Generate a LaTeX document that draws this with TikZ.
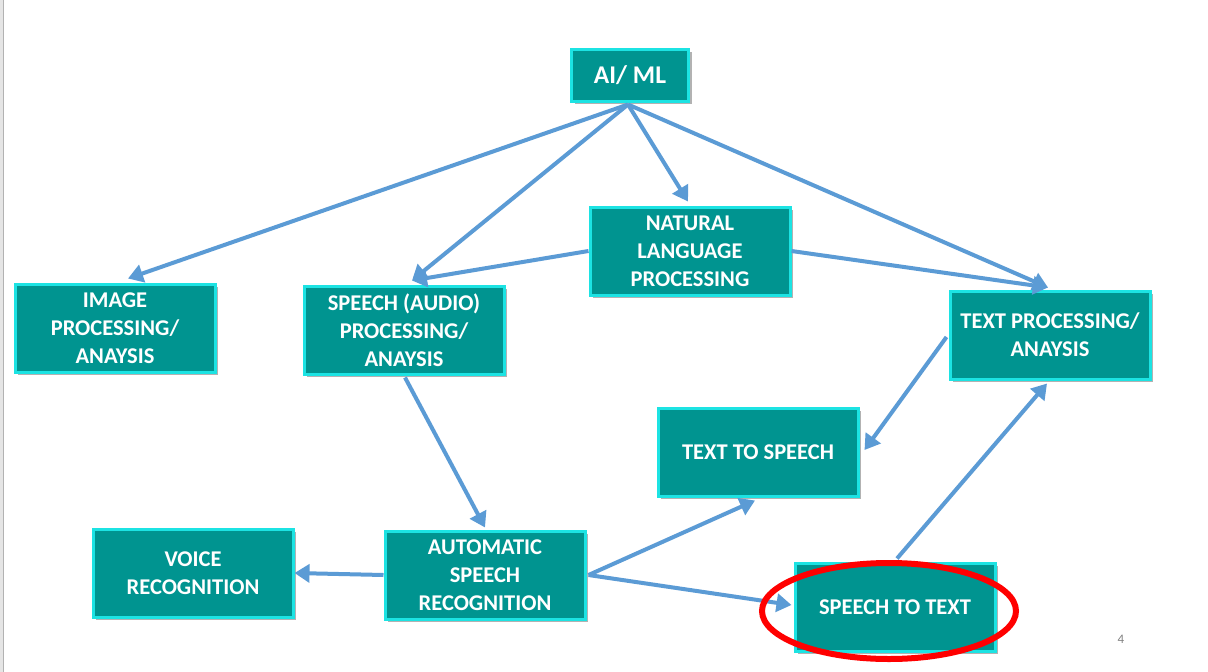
\documentclass[tikz,border=0pt]{standalone}
\usepackage{fontspec}
\setmainfont{Carlito}
\usetikzlibrary{arrows.meta,shadows,calc}
\definecolor{teal1}{HTML}{009490}
\definecolor{cyanb}{HTML}{1CE3E3}
\definecolor{arrowc}{HTML}{5B9BD5}
\tikzset{
  box/.style={rectangle, fill=teal1, draw=cyanb, line width=3pt, text=white,
    font=\fontsize{22.5}{28}\selectfont\bfseries, align=center,
    minimum width=200pt, minimum height=88pt, inner sep=0pt,
    drop shadow={shadow xshift=3pt, shadow yshift=-3pt, opacity=0.3, fill=black}},
  conn/.style={draw=arrowc, line width=4pt, -{Triangle[length=15pt,width=18pt]}}
}
\begin{document}
\begin{tikzpicture}[x=1pt,y=-1pt]
\useasboundingbox (0,0) rectangle (1208,672);
\fill[white] (0,0) rectangle (1208,672);
\fill[gray!20] (0,0) rectangle (3,672);
\draw[gray!60, line width=0.8pt] (3.5,0) -- (3.5,672);

\node[box, minimum width=117pt, minimum height=52pt, font=\fontsize{25.5}{30}\selectfont\bfseries] (ai) at (630,75) {AI/ ML};
\node[box] (nlp) at (690,251) {NATURAL\\LANGUAGE\\PROCESSING};
\node[box] (img) at (115,328) {IMAGE\\PROCESSING/\\ANAYSIS};
\node[box] (sap) at (404,330) {SPEECH (AUDIO)\\PROCESSING/\\ANAYSIS};
\node[box] (tp) at (1050,335) {TEXT PROCESSING/\\ANAYSIS};
\node[box] (tts) at (758,452) {TEXT TO SPEECH};
\node[box] (vr) at (193,573) {VOICE\\RECOGNITION};
\node[box] (asr) at (485,575) {AUTOMATIC\\SPEECH\\RECOGNITION};
\node[box] (stt) at (895,607) {SPEECH TO TEXT};

\coordinate (aio) at ($(ai.south)+(-2,2)$);
\draw[conn] (aio) -- ($(img.north)+(13,-4)$);
\draw[conn] (aio) -- ($(sap.north)+(8,-4)$);
\draw[conn] (aio) -- ($(nlp.north)+(-2,-4)$);
\draw[conn] (aio) -- ($(tp.north)+(-2,-2)$);
\draw[conn] (nlp.west) -- ($(sap.north)+(8,-4)$);
\draw[conn] (nlp.east) -- ($(tp.north)+(-2,-2)$);
\draw[conn] ($(sap.south)+(1,2)$) -- ($(asr.north)+(0,-2)$);
\draw[conn] (asr.west) -- (vr.east);
\coordinate (asro) at ($(asr.east)+(2,0)$);
\draw[conn] (asro) -- ($(tts.south)+(-3,3)$);
\draw[conn] (asro) -- ($(stt.west)+(-2,-2)$);
\draw[conn] ($(tp.west)+(-2,2)$) -- ($(tts.east)+(5,-2)$);
\draw[conn] ($(stt.north)+(2,-3)$) -- ($(tp.south)+(-3,3)$);

\draw[red, line width=6pt] (889,611) ellipse [x radius=127pt, y radius=48pt];

\node[text=gray, font=\fontsize{13}{15}\selectfont] (pg) at (1121,639) {4};
\end{tikzpicture}
\end{document}
